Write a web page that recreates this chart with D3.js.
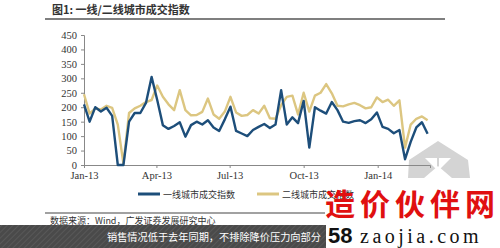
<!DOCTYPE html>
<html>
<head>
<meta charset="utf-8">
<script src="https://cdn.jsdelivr.net/npm/d3@7"></script>
<style>
  body { margin: 0; background: #fff; }
  svg { display: block; }
</style>
</head>
<body>
<div id="chart-area"></div>
<script>
// weekly index values, first week starts 2013-01-01
var startDate = new Date(2013, 0, 1);
var tier1 = [210, 150, 200, 185, 198, 170, 0, 0, 150, 180,
             180, 215, 305, 225, 138, 125, 135, 148, 98, 138,
             150, 140, 155, 130, 118, 158, 202, 118, 109, 100,
             121, 132, 142, 128, 140, 259, 140, 165, 145, 222,
             60, 200, 188, 178, 218, 190, 150, 146, 152, 155,
             145, 158, 182, 132, 125, 110, 121, 20, 80, 130,
             148, 108];
var tier2 = [245, 178, 196, 192, 205, 198, 140, 5, 180, 196,
             205, 218, 225, 275, 236, 210, 190, 259, 190, 172,
             173, 184, 230, 175, 160, 185, 236, 182, 170, 173,
             190, 178, 205, 162, 160, 207, 236, 240, 175, 250,
             185, 240, 250, 280, 248, 205, 203, 210, 215, 207,
             196, 200, 234, 218, 226, 205, 224, 60, 140, 160,
             168, 155];
var tickDates = [new Date(2013, 0, 1), new Date(2013, 3, 1), new Date(2013, 6, 1),
                 new Date(2013, 9, 1), new Date(2014, 0, 1)];
var tickLabels = ["Jan-13", "Apr-13", "Jul-13", "Oct-13", "Jan-14"];
var yTicks = [0, 50, 100, 150, 200, 250, 300, 350, 400, 450];
var seriesNames = ["一线城市成交指数", "二线城市成交指数"];

var dates = tier1.map(function(d, i) { return d3.timeDay.offset(startDate, 7 * i); });

var svg = d3.select("#chart-area").append("svg")
    .attr("width", 500)
    .attr("height", 248);

var x = d3.scaleTime()
    .domain([new Date(2013, 0, 1), new Date(2014, 2, 7)])
    .range([84, 430]);
var y = d3.scaleLinear()
    .domain([0, 450])
    .range([165, 35]);

// title + rule
svg.append("text")
    .attr("x", 52).attr("y", 14)
    .attr("font-family", "'Noto Sans CJK SC'")
    .attr("font-size", "11px")
    .attr("font-weight", "bold")
    .attr("fill", "#333")
    .text("图1:  一线/二线城市成交指数");
svg.append("line")
    .attr("x1", 45).attr("x2", 445).attr("y1", 19).attr("y2", 19)
    .attr("stroke", "#555").attr("stroke-width", 1.5);

// gray logo watermark
var logo = svg.append("g").attr("fill", "#d4d4d4");
logo.append("path").attr("d", "M438,141 L468,160 L470,178 L452,178 L438,166 L424,178 L408,178 L409,160 Z");
logo.append("path").attr("d", "M425,158 L437,158 L437,170 Z M439,158 L451,158 L439,170 Z").attr("fill", "#fff");

// axes
var yAxis = d3.axisLeft(y).tickValues(yTicks).tickSize(3).tickPadding(4);
var gy = svg.append("g").attr("transform", "translate(84,0)").call(yAxis);
var xAxis = d3.axisBottom(x).tickValues(tickDates).tickSize(3).tickPadding(4)
    .tickFormat(function(d, i) { return tickLabels[i]; });
var gx = svg.append("g").attr("transform", "translate(0,165)").call(xAxis);
[gx, gy].forEach(function(g) {
    g.select(".domain").attr("stroke", "#888");
    g.selectAll(".tick line").attr("stroke", "#888");
    g.selectAll("text")
        .attr("font-family", "'Liberation Serif', serif")
        .attr("font-size", "10.5px")
        .attr("fill", "#333");
});

// lines
var line = function(vals) {
    return d3.line()
        .x(function(d, i) { return x(dates[i]); })
        .y(function(d) { return y(d); })(vals);
};
svg.append("path")
    .attr("d", line(tier2))
    .attr("fill", "none")
    .attr("stroke", "#dcc681")
    .attr("stroke-width", 2.4)
    .attr("stroke-linejoin", "round");
svg.append("path")
    .attr("d", line(tier1))
    .attr("fill", "none")
    .attr("stroke", "#1d4e7a")
    .attr("stroke-width", 2.4)
    .attr("stroke-linejoin", "round");

// legend
var legendColors = ["#1d4e7a", "#dcc681"];
var legendX = [138, 257];
seriesNames.forEach(function(name, i) {
    svg.append("line")
        .attr("x1", legendX[i]).attr("x2", legendX[i] + 22)
        .attr("y1", 194).attr("y2", 194)
        .attr("stroke", legendColors[i]).attr("stroke-width", 3);
    svg.append("text")
        .attr("x", legendX[i] + 25).attr("y", 197.5)
        .attr("font-family", "'Noto Sans CJK SC'")
        .attr("font-size", "9px")
        .attr("fill", "#333")
        .text(name);
});

// source
svg.append("line")
    .attr("x1", 45).attr("x2", 325).attr("y1", 213).attr("y2", 213)
    .attr("stroke", "#444").attr("stroke-width", 1.2);
svg.append("text")
    .attr("x", 50).attr("y", 224)
    .attr("font-family", "'Noto Sans CJK SC'")
    .attr("font-size", "9px")
    .attr("fill", "#333")
    .text("数据来源：Wind，广发证券发展研究中心");

// dark caption band
var defs = svg.append("defs");
var pat = defs.append("pattern")
    .attr("id", "hatch").attr("width", 4).attr("height", 4)
    .attr("patternUnits", "userSpaceOnUse")
    .attr("patternTransform", "rotate(45)");
pat.append("rect").attr("width", 4).attr("height", 4).attr("fill", "#4a4a4a");
pat.append("line").attr("x1", 0).attr("x2", 0).attr("y1", 0).attr("y2", 4)
    .attr("stroke", "#5c5c5c").attr("stroke-width", 1.5);
svg.append("rect")
    .attr("x", 0).attr("y", 225).attr("width", 326).attr("height", 23)
    .attr("fill", "url(#hatch)");
svg.append("text")
    .attr("x", 107).attr("y", 241)
    .attr("font-family", "'Noto Sans CJK SC'")
    .attr("font-size", "10.2px")
    .attr("fill", "#fff")
    .text("销售情况低于去年同期，不排除降价压力向部分");

// site watermark
svg.append("rect")
    .attr("x", 326).attr("y", 222).attr("width", 174).attr("height", 26)
    .attr("fill", "#fff");
svg.append("text")
    .attr("x", 325).attr("y", 215)
    .attr("font-family", "'Noto Sans CJK SC'")
    .attr("font-size", "30px")
    .attr("font-weight", "bold")
    .attr("letter-spacing", "5px")
    .attr("fill", "#e01010")
    .text("造价伙伴网");
svg.append("text")
    .attr("x", 328).attr("y", 243)
    .attr("font-family", "'Liberation Sans', sans-serif")
    .attr("font-size", "22px")
    .attr("font-weight", "bold")
    .attr("fill", "#111")
    .text("58");
svg.append("text")
    .attr("x", 360).attr("y", 243)
    .attr("font-family", "'Liberation Serif', serif")
    .attr("font-size", "20px")
    .attr("letter-spacing", "3.5px")
    .attr("fill", "#111")
    .text("zaojia.com");
</script>
</body>
</html>
